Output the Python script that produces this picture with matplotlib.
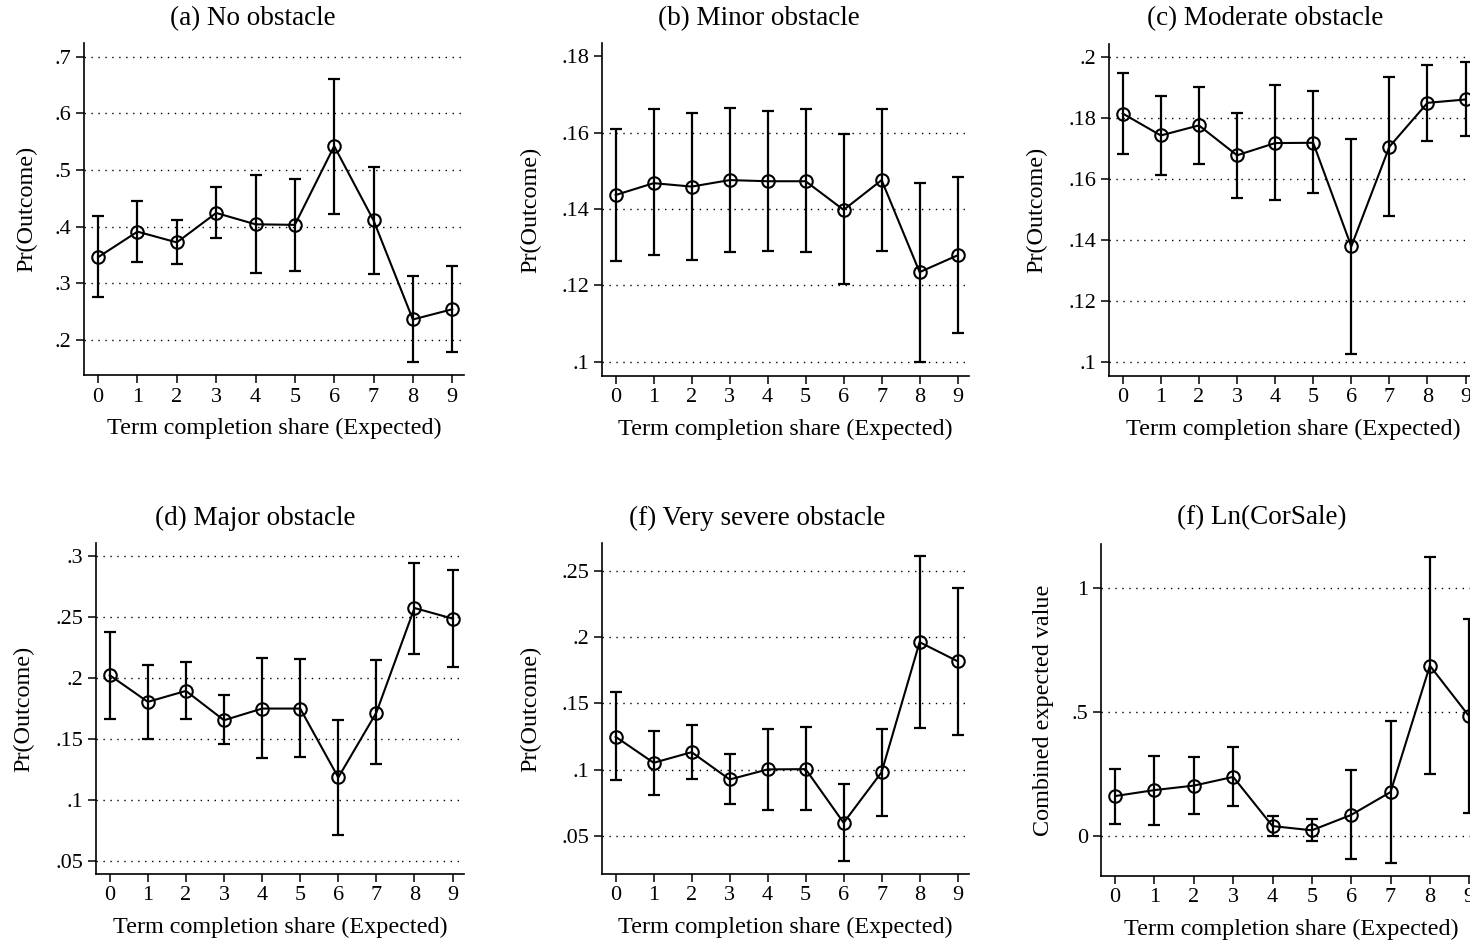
import matplotlib.pyplot as plt

plt.rcParams['font.family'] = ['Liberation Serif', 'DejaVu Serif']

x = list(range(10))
xtick_labels = [str(i) for i in x]

titles = ['(a) No obstacle', '(b) Minor obstacle', '(c) Moderate obstacle',
          '(d) Major obstacle', '(f) Very severe obstacle', '(f) Ln(CorSale)']
ylabels = ['Pr(Outcome)'] * 5 + ['Combined expected value']

# point estimates with lower / upper confidence bounds
mean_a = [0.346, 0.391, 0.372, 0.424, 0.404, 0.403, 0.542, 0.411, 0.236, 0.254]
lo_a = [0.275, 0.338, 0.334, 0.379, 0.318, 0.322, 0.423, 0.317, 0.161, 0.179]
hi_a = [0.419, 0.445, 0.412, 0.469, 0.491, 0.484, 0.661, 0.506, 0.313, 0.331]

mean_b = [0.1437, 0.1468, 0.1459, 0.1476, 0.1473, 0.1473, 0.1398, 0.1476, 0.1235, 0.1279]
lo_b = [0.1265, 0.1279, 0.1267, 0.1289, 0.1291, 0.1287, 0.1203, 0.1291, 0.1000, 0.1076]
hi_b = [0.1610, 0.1661, 0.1652, 0.1665, 0.1658, 0.1661, 0.1596, 0.1661, 0.1468, 0.1483]

mean_c = [0.1816, 0.1744, 0.1777, 0.1679, 0.1719, 0.1720, 0.1380, 0.1707, 0.1851, 0.1862]
lo_c = [0.1682, 0.1613, 0.1650, 0.1540, 0.1532, 0.1554, 0.1027, 0.1479, 0.1727, 0.1741]
hi_c = [0.1949, 0.1875, 0.1904, 0.1819, 0.1910, 0.1890, 0.1734, 0.1936, 0.1975, 0.1986]

mean_d = [0.2024, 0.1805, 0.1895, 0.1654, 0.1750, 0.1750, 0.1184, 0.1717, 0.2576, 0.2489]
lo_d = [0.1668, 0.1504, 0.1663, 0.1457, 0.1340, 0.1356, 0.0713, 0.1296, 0.2201, 0.2089]
hi_d = [0.2379, 0.2108, 0.2130, 0.1862, 0.2163, 0.2155, 0.1657, 0.2149, 0.2948, 0.2891]

mean_e = [0.1247, 0.1051, 0.1131, 0.0925, 0.1001, 0.1003, 0.0598, 0.0980, 0.1962, 0.1818]
lo_e = [0.0918, 0.0809, 0.0928, 0.0742, 0.0696, 0.0696, 0.0306, 0.0646, 0.1313, 0.1260]
hi_e = [0.1584, 0.1292, 0.1333, 0.1114, 0.1308, 0.1318, 0.0887, 0.1305, 0.2611, 0.2374]

mean_f = [0.161, 0.185, 0.203, 0.238, 0.040, 0.023, 0.085, 0.177, 0.686, 0.482]
lo_f = [0.050, 0.046, 0.089, 0.121, 0.000, -0.020, -0.091, -0.107, 0.251, 0.091]
hi_f = [0.270, 0.323, 0.317, 0.358, 0.079, 0.070, 0.264, 0.463, 1.122, 0.872]

yticks = [
    [0.2, 0.3, 0.4, 0.5, 0.6, 0.7],
    [0.10, 0.12, 0.14, 0.16, 0.18],
    [0.10, 0.12, 0.14, 0.16, 0.18, 0.20],
    [0.05, 0.10, 0.15, 0.20, 0.25, 0.30],
    [0.05, 0.10, 0.15, 0.20, 0.25],
    [0.0, 0.5, 1.0],
]
ylims = [(0.138, 0.724), (0.0963, 0.1835), (0.0955, 0.2044),
         (0.0391, 0.311), (0.0211, 0.2711), (-0.161, 1.176)]

series = [(mean_a, lo_a, hi_a), (mean_b, lo_b, hi_b), (mean_c, lo_c, hi_c),
          (mean_d, lo_d, hi_d), (mean_e, lo_e, hi_e), (mean_f, lo_f, hi_f)]

# axes boxes in pixels: left, top, right, bottom
W, H = 1470, 944
boxes = [(84, 43, 464, 375), (602, 43, 969, 376), (1109, 44, 1477, 376),
         (96, 543, 464, 874), (602, 543, 969, 874), (1101, 544, 1481, 876)]
title_pos = [(253, 19), (759, 19), (1265, 19), (255, 518), (757, 518), (1262, 518)]
ylabel_x = [27, 531, 1037, 24, 531, 1044]


def fmt(v):
    if v == 0:
        return '0'
    s = f'{v:g}'
    return s[1:] if s.startswith('0.') else s


fig = plt.figure(figsize=(W / 100, H / 100), dpi=100)

for i in range(6):
    l, t, r, b = boxes[i]
    ax = fig.add_axes([l / W, 1 - b / H, (r - l) / W, (b - t) / H])
    m, lo, hi = series[i]
    err = [[mm - a for mm, a in zip(m, lo)], [c - mm for mm, c in zip(m, hi)]]
    ax.errorbar(x, m, yerr=err, fmt='none', ecolor='black', elinewidth=1.6,
                capsize=4.5, capthick=1.6, zorder=3)
    ax.plot(x, m, color='black', lw=1.5, marker='o', markersize=9,
            markerfacecolor='none', markeredgewidth=1.5, zorder=4)

    ax.set_xlim(-0.36, 9.3)
    ax.set_ylim(*ylims[i])
    ax.set_xticks(x)
    ax.set_xticklabels(xtick_labels)
    ax.set_yticks(yticks[i])
    ax.set_yticklabels([fmt(v) for v in yticks[i]])
    for v in yticks[i]:
        if i == 1 and v == 0.18:
            continue
        ax.axhline(v, color='black', lw=1.0, ls=(0, (1, 4)), zorder=1)

    for s in ['top', 'right']:
        ax.spines[s].set_visible(False)
    for s in ['left', 'bottom']:
        ax.spines[s].set_linewidth(1.2)
    ax.tick_params(direction='out', length=6, width=1.1, labelsize=16, pad=3)

    fig.text(title_pos[i][0] / W, 1 - title_pos[i][1] / H, titles[i],
             ha='center', va='center', fontsize=19.5)
    fig.text(ylabel_x[i] / W, 1 - ((t + b) / 2) / H, ylabels[i],
             ha='center', va='center', rotation=90, fontsize=17.4)
    ax.set_xlabel('Term completion share (Expected)', fontsize=17.4, labelpad=8)

fig.savefig('out.png', dpi=100)
